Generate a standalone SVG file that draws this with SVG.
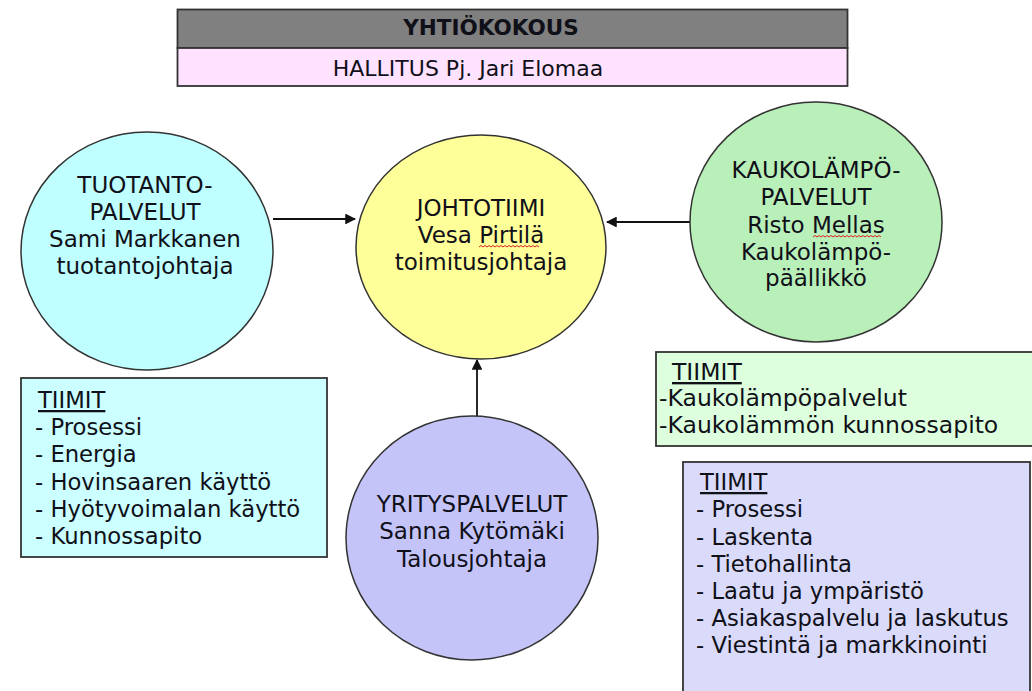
<svg xmlns="http://www.w3.org/2000/svg" width="1032" height="691" viewBox="0 0 1032 691">
<defs>
<style>
text{font-family:"DejaVu Sans","Liberation Sans",sans-serif;fill:#101018;}
.c{font-size:23px;text-anchor:middle;}
.b{font-size:22.7px;}
.g{font-size:23.5px;}
.node{stroke:#333;stroke-width:1.5;}
.box{stroke:#333;stroke-width:1.8;}
.conn{stroke:#111;stroke-width:1.8;fill:none;}
.sq{stroke:#e02020;stroke-width:1;fill:none;}
</style>
<marker id="ah" viewBox="0 0 10 10" refX="9" refY="5" markerWidth="6" markerHeight="6" orient="auto">
<path d="M0,0 L10,5 L0,10 z" fill="#111"/>
</marker>
</defs>
<rect width="1032" height="691" fill="#fff"/>

<g id="yhtiokokous">
<rect x="177.5" y="9.5" width="670" height="38.5" fill="#808080" class="box"/>
<text x="491" y="35" font-size="21.5" font-weight="bold" text-anchor="middle">YHTIÖKOKOUS</text>
</g>
<g id="hallitus">
<rect x="177.5" y="48" width="670" height="38" fill="#ffe2ff" class="box"/>
<text x="468" y="76" font-size="22" text-anchor="middle">HALLITUS Pj. Jari Elomaa</text>
</g>

<g id="connectors">
<line x1="273" y1="219" x2="355" y2="219" class="conn" marker-end="url(#ah)"/>
<line x1="690" y1="222" x2="607" y2="222" class="conn" marker-end="url(#ah)"/>
<line x1="477" y1="416" x2="477" y2="360" class="conn" marker-end="url(#ah)"/>
</g>

<g id="tuotanto">
<ellipse cx="147" cy="251" rx="126" ry="119" fill="#bfffff" class="node"/>
<text class="c" x="145" y="193">TUOTANTO-</text>
<text class="c" x="145" y="220">PALVELUT</text>
<text class="c" x="145" y="247">Sami Markkanen</text>
<text class="c" x="145" y="274">tuotantojohtaja</text>
</g>

<g id="johtotiimi">
<ellipse cx="481" cy="247" rx="125" ry="112" fill="#ffff99" class="node"/>
<text class="c" x="481" y="216">JOHTOTIIMI</text>
<text class="c" x="481" y="243">Vesa Pirtilä</text>
<text class="c" x="481" y="270">toimitusjohtaja</text>
<path class="sq" d="M479,247 l2,-1.5 l2,1.5 l2,-1.5 l2,1.5 l2,-1.5 l2,1.5 l2,-1.5 l2,1.5 l2,-1.5 l2,1.5 l2,-1.5 l2,1.5 l2,-1.5 l2,1.5 l2,-1.5 l2,1.5 l2,-1.5 l2,1.5 l2,-1.5 l2,1.5 l2,-1.5 l2,1.5 l2,-1.5 l2,1.5 l2,-1.5 l2,1.5 l2,-1.5 l2,1.5 l2,-1.5 l2,1.5"/>
</g>

<g id="kaukolampo">
<ellipse cx="816" cy="222" rx="126" ry="120" fill="#b9efb9" class="node"/>
<text class="c" x="816" y="178">KAUKOLÄMPÖ-</text>
<text class="c" x="816" y="205">PALVELUT</text>
<text class="c" x="816" y="233">Risto Mellas</text>
<text class="c" x="816" y="260">Kaukolämpö-</text>
<text class="c" x="816" y="286">päällikkö</text>
<path class="sq" d="M813,237 l2,-1.5 l2,1.5 l2,-1.5 l2,1.5 l2,-1.5 l2,1.5 l2,-1.5 l2,1.5 l2,-1.5 l2,1.5 l2,-1.5 l2,1.5 l2,-1.5 l2,1.5 l2,-1.5 l2,1.5 l2,-1.5 l2,1.5 l2,-1.5 l2,1.5 l2,-1.5 l2,1.5 l2,-1.5 l2,1.5 l2,-1.5 l2,1.5 l2,-1.5 l2,1.5 l2,-1.5 l2,1.5 l2,-1.5 l2,1.5 l2,-1.5 l2,1.5"/>
</g>

<g id="yrityspalvelut">
<ellipse cx="472" cy="538" rx="126" ry="122" fill="#c4c4f8" class="node"/>
<text class="c" x="472" y="512">YRITYSPALVELUT</text>
<text class="c" x="472" y="539">Sanna Kytömäki</text>
<text class="c" x="472" y="567">Talousjohtaja</text>
</g>

<g id="tiimit-tuotanto">
<rect x="21" y="378" width="306" height="179" fill="#ccffff" class="box"/>
<text class="b" x="38" y="408" text-decoration="underline">TIIMIT</text>
<text class="b" x="35" y="435">- Prosessi</text>
<text class="b" x="35" y="462">- Energia</text>
<text class="b" x="35" y="490">- Hovinsaaren käyttö</text>
<text class="b" x="35" y="517">- Hyötyvoimalan käyttö</text>
<text class="b" x="35" y="544">- Kunnossapito</text>
</g>

<g id="tiimit-kaukolampo">
<rect x="656" y="352" width="390" height="94" fill="#ddffdd" class="box"/>
<text class="g" x="672" y="380" text-decoration="underline">TIIMIT</text>
<text class="g" x="659" y="406">-Kaukolämpöpalvelut</text>
<text class="g" x="659" y="433">-Kaukolämmön kunnossapito</text>
</g>

<g id="tiimit-yritys">
<rect x="683" y="462" width="347" height="240" fill="#dadafa" class="box"/>
<text class="b" x="700" y="490" text-decoration="underline">TIIMIT</text>
<text class="b" x="696" y="517">- Prosessi</text>
<text class="b" x="696" y="545">- Laskenta</text>
<text class="b" x="696" y="572">- Tietohallinta</text>
<text class="b" x="696" y="599">- Laatu ja ympäristö</text>
<text class="b" x="696" y="626">- Asiakaspalvelu ja laskutus</text>
<text class="b" x="696" y="653">- Viestintä ja markkinointi</text>
</g>
</svg>
